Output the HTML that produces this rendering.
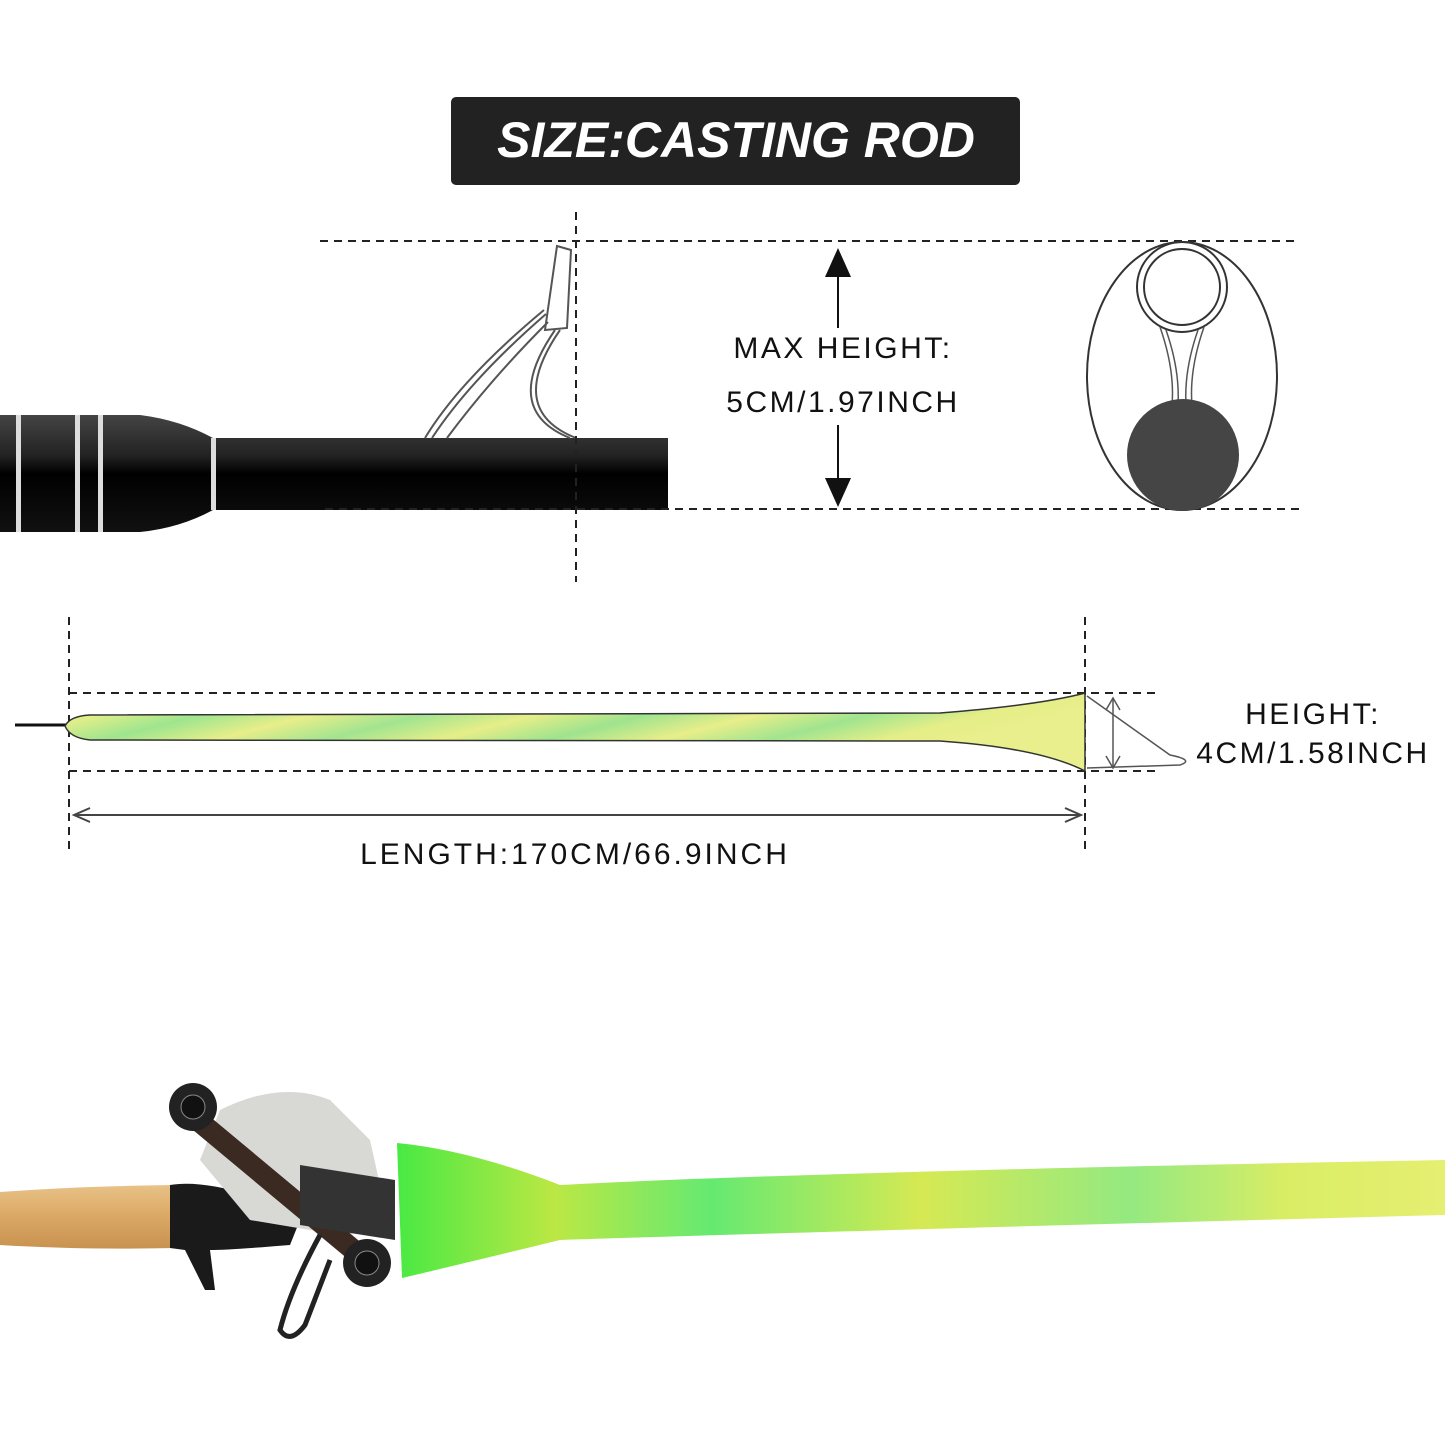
<!DOCTYPE html>
<html><head><style>
html,body{margin:0;padding:0;background:#fff;}
svg{display:block;}
text{font-family:"Liberation Sans",sans-serif;}
</style></head><body>
<svg width="1445" height="1445" viewBox="0 0 1445 1445" xmlns="http://www.w3.org/2000/svg">
<defs>
<linearGradient id="rod" x1="0" y1="0" x2="0" y2="1">
<stop offset="0" stop-color="#444"/><stop offset="0.35" stop-color="#222"/><stop offset="0.5" stop-color="#000"/><stop offset="1" stop-color="#111"/>
</linearGradient>
<linearGradient id="sock" x1="0" y1="0" x2="1" y2="0.3">
<stop offset="0" stop-color="#c8e87a"/><stop offset="0.1" stop-color="#e6ef8a"/><stop offset="0.2" stop-color="#9ee58e"/><stop offset="0.3" stop-color="#e8ee8a"/><stop offset="0.4" stop-color="#a2e490"/><stop offset="0.5" stop-color="#e6ee88"/><stop offset="0.6" stop-color="#9fe38e"/><stop offset="0.7" stop-color="#e8ee8a"/><stop offset="0.8" stop-color="#a0e48f"/><stop offset="0.9" stop-color="#e5ee88"/><stop offset="1" stop-color="#e9ef8d"/>
</linearGradient>
<linearGradient id="sleeve" x1="0" y1="0" x2="1" y2="0">
<stop offset="0" stop-color="#3fe83a"/><stop offset="0.15" stop-color="#b8e63a"/><stop offset="0.3" stop-color="#5de86a"/><stop offset="0.5" stop-color="#d4e84a"/><stop offset="0.7" stop-color="#8ee87a"/><stop offset="0.85" stop-color="#d8ec5c"/><stop offset="1" stop-color="#e4ee6a"/>
</linearGradient>
<linearGradient id="cork" x1="0" y1="0" x2="0" y2="1">
<stop offset="0" stop-color="#e8c287"/><stop offset="0.5" stop-color="#dba864"/><stop offset="1" stop-color="#c89250"/>
</linearGradient>
</defs>

<rect x="451" y="97" width="569" height="88" rx="5" fill="#222"/>
<text x="736" y="157" text-anchor="middle" font-size="50" font-weight="bold" font-style="italic" fill="#fff">SIZE:CASTING ROD</text>

<path d="M0 415 L140 415 Q180 420 213 438 L668 438 L668 510 L213 510 Q180 528 140 532 L0 532 Z" fill="url(#rod)"/>
<g fill="#ddd"><rect x="16" y="415" width="5" height="117"/><rect x="75" y="415" width="5" height="117"/><rect x="98" y="415" width="5" height="117"/><rect x="211" y="438" width="5" height="72"/></g>
<g fill="none" stroke="#555" stroke-width="2">
<path d="M557 246 L571 250 L567 328 L545 330 Z"/>
<path d="M544 310 Q460 380 425 438"/><path d="M546 314 Q470 380 432 438"/><path d="M548 322 Q490 380 447 438"/>
<path d="M555 330 Q500 410 570 438"/><path d="M560 330 Q505 410 576 438"/>
</g>

<g stroke="#222" stroke-width="2" stroke-dasharray="8,6" fill="none">
<line x1="320" y1="241" x2="1300" y2="241"/>
<line x1="325" y1="509" x2="1305" y2="509"/>
<line x1="576" y1="212" x2="576" y2="582"/>
<line x1="69" y1="617" x2="69" y2="855"/>
<line x1="1085" y1="617" x2="1085" y2="855"/>
<line x1="69" y1="693" x2="1160" y2="693"/>
<line x1="69" y1="771" x2="1160" y2="771"/>
</g>

<g stroke="#111" stroke-width="2"><line x1="838" y1="270" x2="838" y2="328"/><line x1="838" y1="425" x2="838" y2="485"/></g>
<path d="M838 248 L825 277 L851 277 Z" fill="#111"/>
<path d="M838 507 L825 478 L851 478 Z" fill="#111"/>
<text x="843" y="358" text-anchor="middle" font-size="30" fill="#111" letter-spacing="2.5">MAX HEIGHT:</text>
<text x="843" y="412" text-anchor="middle" font-size="30" fill="#111" letter-spacing="2.5">5CM/1.97INCH</text>

<ellipse cx="1182" cy="376" rx="95" ry="134" fill="none" stroke="#333" stroke-width="2"/>
<circle cx="1182" cy="287" r="45" fill="none" stroke="#333" stroke-width="2"/>
<circle cx="1182" cy="287" r="38" fill="none" stroke="#333" stroke-width="2"/>
<path d="M1160 327 Q1175 370 1172 405 M1204 327 Q1189 370 1192 405 M1166 330 Q1180 370 1178 405 M1198 330 Q1184 370 1186 405" fill="none" stroke="#555" stroke-width="1.5"/>
<circle cx="1183" cy="455" r="56" fill="#454545"/>

<line x1="15" y1="725" x2="68" y2="725" stroke="#111" stroke-width="3"/>
<path d="M65 726 Q70 716 90 715 L940 713 Q1040 705 1085 693 L1085 771 Q1040 748 940 741 L90 740 Q70 738 65 726 Z" fill="url(#sock)" stroke="#333" stroke-width="1.5"/>
<g stroke="#555" stroke-width="1.5" fill="none">
<line x1="1113" y1="699" x2="1113" y2="767"/>
<path d="M1106 710 L1113 698 L1120 710 M1106 756 L1113 768 L1120 756"/>
<path d="M1087 696 L1170 755 Q1195 760 1180 765 L1087 768"/>
</g>
<text x="1313" y="724" text-anchor="middle" font-size="30" fill="#111" letter-spacing="2.5">HEIGHT:</text>
<text x="1313" y="763" text-anchor="middle" font-size="30" fill="#111" letter-spacing="2.5">4CM/1.58INCH</text>

<line x1="75" y1="815" x2="1080" y2="815" stroke="#444" stroke-width="2"/>
<path d="M90 808 L74 815 L90 822 M1065 808 L1081 815 L1065 822" fill="none" stroke="#444" stroke-width="2"/>
<text x="575" y="864" text-anchor="middle" font-size="30" fill="#111" letter-spacing="3">LENGTH:170CM/66.9INCH</text>

<path d="M0 1192 Q80 1186 175 1185 L175 1248 Q80 1250 0 1245 Z" fill="url(#cork)"/>
<path d="M170 1185 Q200 1180 250 1195 L300 1220 L290 1245 Q230 1250 210 1250 L215 1290 L205 1290 L185 1250 L170 1248 Z" fill="#1a1a1a"/>
<path d="M220 1110 Q280 1080 330 1100 L370 1140 L390 1230 L340 1235 L250 1220 L200 1160 Z" fill="#d8d8d5"/>
<path d="M190 1100 L370 1250 L355 1265 L175 1115 Z" fill="#3a2a22"/>
<circle cx="193" cy="1107" r="24" fill="#222"/><circle cx="193" cy="1107" r="12" fill="#111" stroke="#888"/>
<circle cx="367" cy="1263" r="24" fill="#222"/><circle cx="367" cy="1263" r="12" fill="#111" stroke="#888"/>
<path d="M320 1235 Q290 1290 280 1330 Q290 1345 305 1325 L330 1260" fill="none" stroke="#222" stroke-width="5"/>
<path d="M300 1165 L395 1180 L395 1240 L300 1225 Z" fill="#333"/>
<path d="M397 1143 Q470 1150 560 1185 Q800 1172 1445 1160 L1445 1215 Q800 1232 560 1240 Q470 1262 402 1278 Z" fill="url(#sleeve)" opacity="0.95"/>
</svg>
</body></html>
